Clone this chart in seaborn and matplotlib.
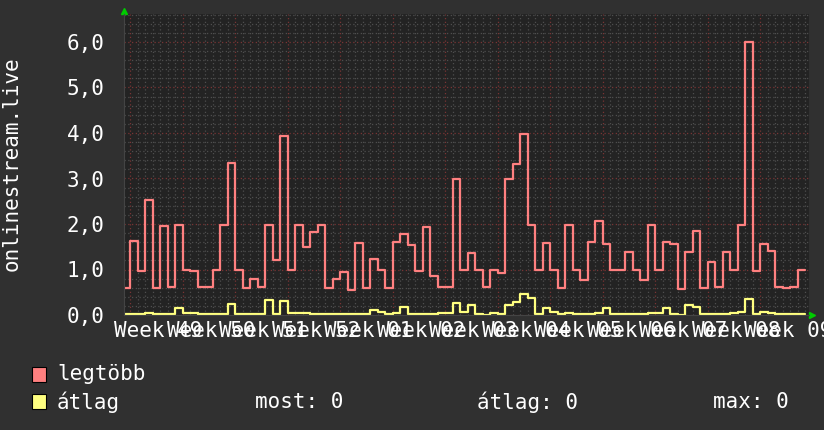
"""
Weekly listener chart for onlinestream.live (rrdtool-like look)
"""

import matplotlib
matplotlib.use("Agg")
import matplotlib.pyplot as plt
from matplotlib.patches import Rectangle
from matplotlib.ticker import FuncFormatter, MultipleLocator
import seaborn as sns
import pandas as pd


# daily values, day 0 = monday of week 49
days = list(range(-1, 90))
legtobb = [
    0.6, 1.63, 0.97, 2.53, 0.6, 1.96, 0.62, 1.98, 1.0, 0.97,
    0.62, 0.62, 1.0, 1.98, 3.35, 1.0, 0.6, 0.8, 0.62, 1.98,
    1.21, 3.93, 1.0, 1.98, 1.5, 1.83, 1.98, 0.59, 0.8, 0.95,
    0.56, 1.59, 0.59, 1.24, 1.0, 0.6, 1.61, 1.79, 1.54, 0.97,
    1.94, 0.86, 0.62, 0.62, 2.99, 1.0, 1.37, 1.0, 0.62, 1.0,
    0.93, 2.99, 3.32, 3.98, 1.98, 1.0, 1.59, 1.0, 0.6, 1.98,
    1.0, 0.76, 1.61, 2.07, 1.56, 1.0, 1.0, 1.39, 1.0, 0.77,
    1.98, 1.0, 1.61, 1.56, 0.58, 1.39, 1.85, 0.6, 1.17, 0.62,
    1.39, 1.0, 1.98, 5.99, 0.97, 1.56, 1.41, 0.62, 0.6, 0.62,
    1.0,
]
atlag = [
    0.02, 0.02, 0.02, 0.04, 0.02, 0.02, 0.02, 0.15, 0.04, 0.04,
    0.02, 0.02, 0.02, 0.02, 0.24, 0.02, 0.02, 0.02, 0.02, 0.34,
    0.02, 0.31, 0.04, 0.05, 0.04, 0.02, 0.02, 0.02, 0.02, 0.02,
    0.02, 0.02, 0.02, 0.1, 0.07, 0.02, 0.04, 0.18, 0.02, 0.02,
    0.02, 0.02, 0.04, 0.04, 0.27, 0.07, 0.23, 0.02, 0.0, 0.04,
    0.02, 0.23, 0.29, 0.46, 0.37, 0.02, 0.15, 0.07, 0.02, 0.05,
    0.02, 0.02, 0.02, 0.04, 0.15, 0.02, 0.02, 0.03, 0.03, 0.02,
    0.05, 0.05, 0.16, 0.03, 0.0, 0.22, 0.18, 0.02, 0.03, 0.02,
    0.02, 0.04, 0.07, 0.36, 0.02, 0.07, 0.05, 0.02, 0.03, 0.02,
    0.02,
]
week_days = [0, 7, 14, 21, 28, 35, 42, 49, 56, 63, 70, 77, 84]
week_labels = ["Week 49", "Week 50", "Week 51", "Week 52", "Week 01",
               "Week 02", "Week 03", "Week 04", "Week 05", "Week 06",
               "Week 07", "Week 08", "Week 09"]

# last step needs an end point
df = pd.DataFrame({
    "day": days + [days[-1] + 1],
    "legtobb": legtobb + [legtobb[-1]],
    "atlag": atlag + [atlag[-1]],
})

sns.set_style("dark")
plt.rcParams["font.family"] = ["DejaVu Sans Mono", "DejaVu Sans"]
plt.rcParams["font.size"] = 15

bg = "#303030"
face = "#232323"
red = "#ff8080"
yellow = "#ffff80"
txt = "#ffffff"

fig = plt.figure(figsize=(8.24, 4.30), dpi=100, facecolor=bg)
ax = fig.add_axes([124 / 824, 115 / 430, 685 / 824, 301 / 430], facecolor=face)

sns.lineplot(data=df, x="day", y="legtobb", color=red, lw=1.6,
             drawstyle="steps-post", ax=ax, legend=False)
sns.lineplot(data=df, x="day", y="atlag", color=yellow, lw=1.6,
             drawstyle="steps-post", ax=ax, legend=False)

ax.set_xlim(-0.8, 90.53)
ax.set_ylim(0, 301 / 45.5)
ax.set_xticks(week_days)
ax.xaxis.set_minor_locator(MultipleLocator(1))
ax.yaxis.set_major_locator(MultipleLocator(1))
ax.yaxis.set_minor_locator(MultipleLocator(0.2))
ax.yaxis.set_major_formatter(FuncFormatter(lambda v, p: f"{v:.1f}".replace(".", ",")))
ax.set_xticklabels([])
ax.set_xlabel("")
ax.set_ylabel("")

ax.grid(which="minor", color="#4e4e4e", linestyle=(0, (1, 2)), lw=0.9)
ax.grid(which="major", color="#7a3434", linestyle=(0, (1, 2)), lw=0.9)
ax.set_axisbelow(True)

ax.tick_params(which="both", colors="#555555", length=2, width=0.8)
ax.tick_params(axis="y", labelcolor=txt, labelsize=15, pad=12)
for side in ["top", "right"]:
    ax.spines[side].set_visible(False)
for side in ["left", "bottom"]:
    ax.spines[side].set_color("#444444")
    ax.spines[side].set_linewidth(0.8)

# week labels sit in the middle of each week
for d, lab in zip(week_days, week_labels):
    ax.text(d + 3.8, -16 / 301, lab, transform=ax.get_xaxis_transform(),
            ha="center", va="center", color=txt, fontsize=15)

# green arrows at axis ends
ax.plot([0.0], [1.01], marker="^", color="#00cc00", ms=5,
        transform=ax.transAxes, clip_on=False)
ax.plot([1.005], [0.0], marker=">", color="#00cc00", ms=5,
        transform=ax.transAxes, clip_on=False)

fig.text(12 / 824, 1 - 164 / 430, "onlinestream.live", rotation=90,
         ha="center", va="center", color=txt, fontsize=15)

# legend
fig.patches.append(Rectangle((32 / 824, 1 - 382 / 430), 14 / 824, 15 / 430,
                             transform=fig.transFigure, facecolor=red,
                             edgecolor="black", lw=0.8))
fig.patches.append(Rectangle((32 / 824, 1 - 409 / 430), 14 / 824, 15 / 430,
                             transform=fig.transFigure, facecolor=yellow,
                             edgecolor="black", lw=0.8))
fig.text(57 / 824, 1 - 374 / 430, "legtöbb", va="center", color=txt)
fig.text(57 / 824, 1 - 402 / 430, "átlag", va="center", color=txt)
fig.text(255 / 824, 1 - 402 / 430, "most: 0", va="center", color=txt)
fig.text(477 / 824, 1 - 402 / 430, "átlag: 0", va="center", color=txt)
fig.text(713 / 824, 1 - 402 / 430, "max: 0", va="center", color=txt)

fig.savefig("out.png", dpi=100, facecolor=bg)
